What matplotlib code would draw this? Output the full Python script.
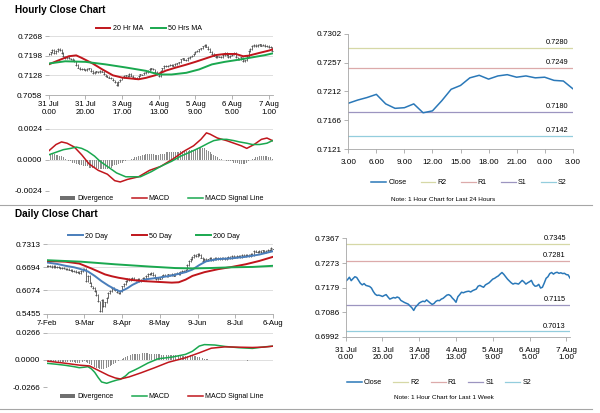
import numpy as np
import matplotlib
matplotlib.use("Agg")
import matplotlib.pyplot as plt
from matplotlib.lines import Line2D
from matplotlib.patches import Patch

plt.rcParams['font.family'] = ['Liberation Sans', 'DejaVu Sans']

# ---------------- DATA ----------------
hour_labels = ["31 Jul\n0.00", "31 Jul\n20.00", "3 Aug\n17.00", "4 Aug\n13.00",
               "5 Aug\n9.00", "6 Aug\n5.00", "7 Aug\n1.00"]
hour_label_idx = [0, 20, 40, 60, 80, 100, 120]

# hourly close, last week (123 hourly bars)
week_close = [
    0.7204, 0.7210, 0.7219, 0.7206, 0.7214, 0.7221, 0.7218, 0.7207, 0.7196, 0.7190,
    0.7195, 0.7188, 0.7186, 0.7184, 0.7178, 0.7165, 0.7155, 0.7150, 0.7151, 0.7149,
    0.7146, 0.7150, 0.7153, 0.7144, 0.7136, 0.7139, 0.7142, 0.7140, 0.7144, 0.7141,
    0.7131, 0.7127, 0.7123, 0.7120, 0.7117, 0.7110, 0.7103, 0.7093, 0.7106, 0.7113,
    0.7121, 0.7125, 0.7128, 0.7126, 0.7133, 0.7127, 0.7121, 0.7116, 0.7119, 0.7127,
    0.7131, 0.7130, 0.7136, 0.7139, 0.7145, 0.7151, 0.7153, 0.7149, 0.7140, 0.7133,
    0.7124, 0.7145, 0.7153, 0.7162, 0.7160, 0.7163, 0.7165, 0.7166, 0.7163, 0.7168,
    0.7171, 0.7174, 0.7185, 0.7188, 0.7184, 0.7181, 0.7190, 0.7194, 0.7198, 0.7205,
    0.7212, 0.7215, 0.7220, 0.7224, 0.7231, 0.7237, 0.7230, 0.7221, 0.7212, 0.7205,
    0.7198, 0.7193, 0.7196, 0.7195, 0.7193, 0.7200, 0.7207, 0.7201,
    0.7193, 0.7198, 0.7202, 0.7207, 0.7192, 0.7185, 0.7186, 0.7192, 0.7178, 0.7181,
    0.7197, 0.7215, 0.7221, 0.7233, 0.7237, 0.7231, 0.7236, 0.7238, 0.7234, 0.7236,
    0.7233, 0.7234, 0.7229, 0.7228, 0.7216]

ma20_h_idx = [0, 6, 11, 15, 18, 24, 29, 35, 40, 46, 49, 53, 58, 64, 69, 75, 80, 86,
              91, 96, 102, 106, 109, 115, 120, 122]
ma20_h = [0.7167, 0.7183, 0.7196, 0.7199, 0.7190, 0.7170, 0.7150, 0.7128, 0.7120,
          0.7116, 0.7114, 0.7119, 0.7128, 0.7145, 0.7155, 0.7166, 0.7176, 0.7189,
          0.7200, 0.7204, 0.7204, 0.7196, 0.7198, 0.7208, 0.7216, 0.7220]
ma50_h_idx = [0, 9, 20, 31, 42, 53, 60, 67, 75, 82, 89, 96, 104, 111, 118, 122]
ma50_h = [0.7170, 0.7178, 0.7176, 0.7167, 0.7156, 0.7144, 0.7131, 0.7131, 0.7137,
          0.7149, 0.7167, 0.7176, 0.7184, 0.7192, 0.7200, 0.7206]

macd_h_idx = [0, 4, 7, 10, 14, 18, 22, 27, 32, 36, 39, 43, 49, 55, 61, 68, 74, 79,
              83, 86, 88, 92, 97, 101, 105, 108, 112, 116, 119, 122]
macd_h = [0.0007, 0.0012, 0.0014, 0.0013, 0.0010, 0.0004, -0.0003, -0.0008, -0.0011,
          -0.0016, -0.0017, -0.0015, -0.0013, -0.0008, -0.0005, 0.0001, 0.0007, 0.0011,
          0.0016, 0.0021, 0.0020, 0.0017, 0.0015, 0.0013, 0.0011, 0.0009, 0.0012,
          0.0016, 0.0017, 0.0015]
sig_h_idx = [0, 4, 8, 12, 15, 18, 21, 25, 28, 32, 37, 42, 46, 50, 56, 61, 67, 72, 77,
             83, 87, 90, 94, 97, 101, 104, 108, 111, 115, 119, 122]
sig_h = [0.0004, 0.0006, 0.0008, 0.0009, 0.0010, 0.0009, 0.0007, 0.0003, -0.0001,
         -0.0005, -0.0010, -0.0013, -0.0013, -0.0013, -0.0009, -0.0005, -0.0001, 0.0003,
         0.0006, 0.0010, 0.0013, 0.0015, 0.0016, 0.0016, 0.0015, 0.0014, 0.0013, 0.0012,
         0.0012, 0.0013, 0.0015]
div_h = [
    0.0004, 0.0005, 0.0005, 0.0005, 0.0004, 0.0004, 0.0003, 0.0003, 0.0002, 0.0001,
    0.0000, -0.0001, -0.0001, -0.0002, -0.0002, -0.0003, -0.0003, -0.0004, -0.0004, -0.0005,
    -0.0005, -0.0005, -0.0006, -0.0006, -0.0006, -0.0006, -0.0006, -0.0007, -0.0007, -0.0007,
    -0.0007, -0.0007, -0.0007, -0.0006, -0.0006, -0.0005, -0.0004, -0.0004, -0.0003, -0.0002,
    -0.0002, -0.0001, -0.0001, 0.0000, 0.0000, 0.0001, 0.0001, 0.0002, 0.0002, 0.0003,
    0.0003, 0.0004, 0.0004, 0.0005, 0.0005, 0.0005, 0.0005, 0.0005, 0.0004, 0.0004,
    0.0004, 0.0005, 0.0005, 0.0005, 0.0006, 0.0006, 0.0006, 0.0006, 0.0006, 0.0006,
    0.0006, 0.0006, 0.0007, 0.0007, 0.0007, 0.0007, 0.0007, 0.0008, 0.0008, 0.0008,
    0.0008, 0.0009, 0.0009, 0.0009, 0.0009, 0.0009, 0.0008, 0.0007, 0.0006, 0.0005,
    0.0004, 0.0003, 0.0002, 0.0001, 0.0001, 0.0000, 0.0000, -0.0001, -0.0001, -0.0001,
    -0.0001, -0.0002, -0.0002, -0.0002, -0.0003, -0.0003, -0.0003, -0.0003, -0.0002, -0.0001,
    0.0000, 0.0001, 0.0001, 0.0002, 0.0002, 0.0003, 0.0003, 0.0003, 0.0003, 0.0003,
    0.0002, 0.0002, 0.0001]

day_labels = ["7-Feb", "9-Mar", "8-Apr", "8-May", "9-Jun", "8-Jul", "6-Aug"]
day_label_idx = [0, 22, 44, 66, 88, 110, 132]
daily_close = [
    0.6720, 0.6712, 0.6730, 0.6705, 0.6718, 0.6690, 0.6700, 0.6685, 0.6672, 0.6680,
    0.6660, 0.6645, 0.6655, 0.6630, 0.6620, 0.6600, 0.6585, 0.6560, 0.6575, 0.6545,
    0.6600, 0.6640, 0.6655, 0.6320, 0.6450, 0.6280, 0.6180, 0.6130, 0.6060, 0.5950,
    0.5780, 0.5520, 0.5820, 0.5650, 0.5750, 0.5880, 0.6000, 0.6060, 0.6150, 0.6100,
    0.6080, 0.6020, 0.6010, 0.6060, 0.6180, 0.6240, 0.6330, 0.6380, 0.6350, 0.6370,
    0.6400, 0.6360, 0.6340, 0.6380, 0.6330, 0.6350, 0.6400, 0.6380, 0.6450, 0.6520,
    0.6510, 0.6530, 0.6480, 0.6420, 0.6380, 0.6410, 0.6390, 0.6450, 0.6480, 0.6470,
    0.6450, 0.6500, 0.6480, 0.6510, 0.6470, 0.6520, 0.6540, 0.6500, 0.6570, 0.6600,
    0.6580, 0.6630, 0.6760, 0.6850, 0.6920, 0.6960, 0.7020, 0.6990, 0.7040, 0.7010,
    0.6950, 0.6860, 0.6920, 0.6880, 0.6900, 0.6930, 0.6890, 0.6910, 0.6940, 0.6920,
    0.6950, 0.6910, 0.6930, 0.6950, 0.6920, 0.6940, 0.6960, 0.6930, 0.6990, 0.6970,
    0.6960, 0.7000, 0.6990, 0.6970, 0.7010, 0.7000, 0.7030, 0.7010, 0.6990, 0.7040,
    0.7020, 0.7120, 0.7110, 0.7090, 0.7130, 0.7100, 0.7140, 0.7090, 0.7120, 0.7160,
    0.7150, 0.7200, 0.7180]

ma20_d_idx = [0, 6, 11, 16, 20, 24, 28, 32, 36, 40, 43, 47, 50, 54, 58, 65, 73, 81,
              85, 89, 93, 100, 108, 116, 124, 132]
ma20_d = [0.682, 0.678, 0.673, 0.669, 0.664, 0.658, 0.646, 0.632, 0.620, 0.610, 0.604,
          0.613, 0.622, 0.631, 0.637, 0.641, 0.647, 0.656, 0.663, 0.675, 0.685, 0.691,
          0.693, 0.697, 0.703, 0.712]
ma50_d_idx = [0, 11, 19, 26, 30, 34, 38, 42, 50, 57, 65, 73, 77, 81, 85, 92, 100, 108,
              116, 124, 132]
ma50_d = [0.686, 0.684, 0.679, 0.666, 0.658, 0.650, 0.645, 0.641, 0.635, 0.632, 0.630,
          0.628, 0.629, 0.636, 0.646, 0.656, 0.664, 0.670, 0.677, 0.686, 0.697]
ma200_d_idx = [0, 20, 40, 60, 75, 85, 95, 108, 120, 132]
ma200_d = [0.688, 0.684, 0.677, 0.671, 0.667, 0.666, 0.667, 0.669, 0.670, 0.673]

macd_d_idx = [0, 6, 11, 16, 19, 22, 24, 26, 28, 30, 32, 35, 38, 41, 43, 46, 48, 51, 54,
              59, 65, 73, 81, 85, 89, 92, 98, 104, 112, 120, 127, 132]
macd_d = [-0.0032, -0.0042, -0.0052, -0.0065, -0.0075, -0.0070, -0.0065, -0.0085,
          -0.0120, -0.0170, -0.0214, -0.0227, -0.0210, -0.0195, -0.0188, -0.0155,
          -0.0123, -0.0100, -0.0075, -0.0030, 0.0012, 0.0028, 0.0055, 0.0085, 0.0136,
          0.0150, 0.0146, 0.0132, 0.0120, 0.0113, 0.0128, 0.0135]
sig_d_idx = [0, 11, 19, 25, 30, 36, 40, 43, 48, 55, 63, 71, 81, 89, 96, 104, 112, 120,
             127, 132]
sig_d = [-0.0010, -0.0032, -0.0050, -0.0058, -0.0100, -0.0150, -0.0175, -0.0185,
         -0.0165, -0.0125, -0.0075, -0.0022, 0.0022, 0.0070, 0.0115, 0.0128, 0.0125,
         0.0122, 0.0126, 0.0135]
div_d = [
    -0.0010, -0.0012, -0.0012, -0.0015, -0.0015, -0.0015, -0.0018, -0.0018, -0.0018, -0.0020,
    -0.0020, -0.0020, -0.0018, -0.0020, -0.0022, -0.0022, -0.0022, -0.0025, -0.0025, -0.0025,
    -0.0020, -0.0015, -0.0012, -0.0015, -0.0025, -0.0035, -0.0045, -0.0055, -0.0065, -0.0075,
    -0.0080, -0.0088, -0.0090, -0.0090, -0.0085, -0.0078, -0.0068, -0.0058, -0.0048, -0.0038,
    -0.0030, -0.0020, -0.0010, -0.0003, 0.0005, 0.0015, 0.0025, 0.0035, 0.0045, 0.0052,
    0.0055, 0.0058, 0.0060, 0.0062, 0.0063, 0.0065, 0.0065, 0.0066, 0.0065, 0.0064,
    0.0063, 0.0062, 0.0060, 0.0058, 0.0056, 0.0055, 0.0054, 0.0052, 0.0050, 0.0050,
    0.0048, 0.0048, 0.0046, 0.0046, 0.0045, 0.0045, 0.0045, 0.0044, 0.0044, 0.0043,
    0.0042, 0.0042, 0.0043, 0.0045, 0.0045, 0.0044, 0.0042, 0.0038, 0.0032, 0.0026,
    0.0020, 0.0015, 0.0010, 0.0007, 0.0005, 0.0004, 0.0003, 0.0002, 0.0002, 0.0001,
    0.0001, 0.0001, 0.0000, 0.0000, 0.0000, 0.0000, 0.0000, 0.0000, 0.0000, 0.0000,
    0.0000, 0.0000, -0.0001, -0.0002, -0.0003, -0.0004, -0.0004, -0.0005, -0.0004, -0.0003,
    -0.0002, -0.0002, -0.0001, 0.0001, 0.0002, 0.0003, 0.0003, 0.0003, 0.0002, 0.0002,
    0.0001, 0.0001, 0.0000]

hours24_labels = ["3.00", "6.00", "9.00", "12.00", "15.00", "18.00", "21.00", "0.00", "3.00"]
hours24_close = [0.7193, 0.7198, 0.7202, 0.7207, 0.7192, 0.7185, 0.7186, 0.7192, 0.7178,
                 0.7181, 0.7197, 0.7215, 0.7221, 0.7233, 0.7237, 0.7231, 0.7236, 0.7238,
                 0.7234, 0.7236, 0.7233, 0.7234, 0.7229, 0.7228, 0.7216]
levels_24h = {"R2": 0.7280, "R1": 0.7249, "S1": 0.7180, "S2": 0.7142}
levels_week = {"R2": 0.7345, "R1": 0.7281, "S1": 0.7115, "S2": 0.7013}

# ---------------- STYLE ----------------
RED = "#c0161c"
GREEN = "#1aa84f"
BLUE20 = "#4a7ebb"
CLOSE_BLUE = "#2a78b8"
BAR_GRAY = "#505050"
DIV_GRAY = "#8c8c8c"
AXIS_GRAY = "#a6a6a6"
GRID_GRAY = "#d9d9d9"
LEVEL_COLORS = {"R2": "#d6d8a6", "R1": "#dcaaaa", "S1": "#9c95c0", "S2": "#93cddd"}

W, H = 600, 413
fig = plt.figure(figsize=(6, 4.13), dpi=100)


def px_axes(l, t, r, b):
    return fig.add_axes([l / W, 1 - b / H, (r - l) / W, (b - t) / H])


def style_left_panel(ax, yticks, grid=True):
    ax.set_yticks(yticks)
    ax.set_yticklabels(["%.4f" % v for v in yticks])
    if grid:
        ax.yaxis.grid(True, color=GRID_GRAY, lw=0.6)
    ax.set_axisbelow(True)
    for s in ["top", "right", "left"]:
        ax.spines[s].set_visible(False)
    ax.spines["bottom"].set_color(AXIS_GRAY)
    ax.spines["bottom"].set_linewidth(0.6)
    ax.tick_params(axis="y", length=3, width=0.6, color=AXIS_GRAY, labelsize=5.9, pad=1.5)
    ax.tick_params(axis="x", length=3, width=0.6, color=AXIS_GRAY, labelsize=5.6, pad=1.5)


def legend(ax, handles, labels, cx, cy, colsp, **kw):
    ax.legend(handles, labels, loc="center", bbox_to_anchor=(cx / W, 1 - cy / H),
              bbox_transform=fig.transFigure, ncol=len(handles), frameon=False,
              fontsize=5.1, handlelength=2.1, handletextpad=0.3, columnspacing=colsp,
              borderpad=0, borderaxespad=0, **kw)


def price_bars(ax, values):
    v = np.asarray(values)
    x = np.arange(len(v))
    prev = np.r_[v[0], v[:-1]]
    y0, y1 = ax.get_ylim()
    pad = 0.012 * (y1 - y0)  # visual bar extent only
    ax.vlines(x, np.minimum(prev, v) - pad, np.maximum(prev, v) + pad,
              color=BAR_GRAY, lw=0.6)
    ax.plot(x, v, ls="none", marker="_", ms=1.6, mew=0.6, color=BAR_GRAY)


# ---------------- TITLES & SEPARATORS ----------------
fig.text(15 / W, 1 - 10 / H, "Hourly Close Chart", fontsize=7.2, fontweight="bold",
         va="center", ha="left")
fig.text(15 / W, 1 - 214 / H, "Daily Close Chart", fontsize=7.2, fontweight="bold",
         va="center", ha="left")
for yy in (205, 409):
    fig.add_artist(Line2D([0, 592 / W], [1 - yy / H] * 2, color=AXIS_GRAY, lw=0.8))

# ---------------- HOURLY PRICE ----------------
ax1 = px_axes(48.7, 36, 273, 95)
ax1.set_xlim(0, 122.3)
ax1.set_ylim(0.7058, 0.7268)
price_bars(ax1, week_close)
ax1.plot(ma20_h_idx, ma20_h, color=RED, lw=1.4)
ax1.plot(ma50_h_idx, ma50_h, color=GREEN, lw=1.4)
style_left_panel(ax1, [0.7058, 0.7128, 0.7198, 0.7268])
ax1.set_xticks(hour_label_idx)
ax1.set_xticklabels(hour_labels)
for t in ax1.get_xticklabels():
    t.set_linespacing(1.05)
legend(ax1, [Line2D([], [], color=RED, lw=1.4), Line2D([], [], color=GREEN, lw=1.4)],
       ["20 Hr MA", "50 Hrs MA"], 149, 29, 1.2)

# ---------------- HOURLY MACD ----------------
ax2 = px_axes(48.7, 129, 273, 191)
ax2.bar(np.arange(len(div_h)), div_h, width=0.55, color=DIV_GRAY, lw=0)
ax2.plot(macd_h_idx, macd_h, color=RED, lw=1.1)
ax2.plot(sig_h_idx, sig_h, color=GREEN, lw=1.1)
ax2.set_xlim(0, 122.3)
ax2.set_ylim(-0.0024, 0.0024)
style_left_panel(ax2, [-0.0024, 0.0, 0.0024])
ax2.spines["bottom"].set_visible(False)
ax2.set_xticks([])
legend(ax2, [Patch(facecolor="#6f6f6f", edgecolor="none"),
             Line2D([], [], color=RED, lw=1.1), Line2D([], [], color=GREEN, lw=1.1)],
       ["Divergence", "MACD", "MACD Signal Line"], 162, 199, 2.6, handleheight=0.5)

# ---------------- DAILY PRICE ----------------
ax3 = px_axes(46.7, 244, 273, 313.5)
ax3.set_xlim(0, 132)
ax3.set_ylim(0.5455, 0.7313)
price_bars(ax3, daily_close)
ax3.plot(ma20_d_idx, ma20_d, color=BLUE20, lw=1.4)
ax3.plot(ma50_d_idx, ma50_d, color=RED, lw=1.4)
ax3.plot(ma200_d_idx, ma200_d, color=GREEN, lw=1.4)
style_left_panel(ax3, [0.5455, 0.6074, 0.6694, 0.7313])
ax3.set_xticks(day_label_idx)
ax3.set_xticklabels(day_labels)
legend(ax3, [Line2D([], [], color=BLUE20, lw=1.4), Line2D([], [], color=RED, lw=1.4),
             Line2D([], [], color=GREEN, lw=1.4)],
       ["20 Day", "50 Day", "200 Day"], 154, 236, 3.4)

# ---------------- DAILY MACD ----------------
ax4 = px_axes(46.7, 332.7, 273, 387.3)
ax4.bar(np.arange(len(div_d)), div_d, width=0.55, color=DIV_GRAY, lw=0)
ax4.plot(macd_d_idx, macd_d, color=GREEN, lw=1.1)
ax4.plot(sig_d_idx, sig_d, color=RED, lw=1.1)
ax4.set_xlim(0, 132)
ax4.set_ylim(-0.0266, 0.0266)
style_left_panel(ax4, [-0.0266, 0.0, 0.0266])
ax4.spines["bottom"].set_visible(False)
ax4.set_xticks([])
legend(ax4, [Patch(facecolor="#6f6f6f", edgecolor="none"),
             Line2D([], [], color=GREEN, lw=1.1), Line2D([], [], color=RED, lw=1.1)],
       ["Divergence", "MACD", "MACD Signal Line"], 162, 397, 2.6, handleheight=0.5)


# ---------------- RIGHT PANELS ----------------
def style_right_panel(ax, yticks):
    ax.set_yticks(yticks)
    ax.set_yticklabels(["%.4f" % v for v in yticks])
    for s in ["top", "right"]:
        ax.spines[s].set_visible(False)
    for s in ["left", "bottom"]:
        ax.spines[s].set_color(AXIS_GRAY)
        ax.spines[s].set_linewidth(0.6)
    ax.tick_params(axis="y", length=3, width=0.6, color=AXIS_GRAY, labelsize=5.9, pad=1.5)
    ax.tick_params(axis="x", length=3, width=0.6, color=AXIS_GRAY, labelsize=5.9, pad=4)


def level_lines(ax, levels):
    handles = [Line2D([], [], color=CLOSE_BLUE, lw=1.1)]
    names = ["Close"]
    for name, val in levels.items():
        ax.axhline(val, color=LEVEL_COLORS[name], lw=0.9)
        ax.annotate("%.4f" % val, xy=(1, val), xycoords=("axes fraction", "data"),
                    xytext=(-3, 1.2), textcoords="offset points", ha="right", va="bottom",
                    fontsize=5.3)
        handles.append(Line2D([], [], color=LEVEL_COLORS[name], lw=0.9))
        names.append(name)
    return handles, names


ax5 = px_axes(348.3, 34, 572.7, 149)
h, n = level_lines(ax5, levels_24h)
ax5.plot(np.arange(len(hours24_close)), hours24_close, color=CLOSE_BLUE, lw=1.1)
ax5.set_xlim(0, 24)
ax5.set_ylim(0.7121, 0.7302)
style_right_panel(ax5, [0.7121, 0.7166, 0.7212, 0.7257, 0.7302])
ax5.set_xticks(np.arange(0, 25, 3))
ax5.set_xticklabels(hours24_labels)
legend(ax5, h, n, 469, 183, 2.0)
fig.text(443.5 / W, 1 - 200 / H, "Note: 1 Hour Chart for Last 24 Hours", fontsize=4.6,
         ha="center", va="center")

ax6 = px_axes(345.7, 238.3, 570, 337)
h, n = level_lines(ax6, levels_week)
ax6.plot(np.arange(len(week_close)), week_close, color=CLOSE_BLUE, lw=1.1)
ax6.set_xlim(0, 122)
ax6.set_ylim(0.6992, 0.7367)
style_right_panel(ax6, [0.6992, 0.7086, 0.7179, 0.7273, 0.7367])
ax6.set_xticks(hour_label_idx)
ax6.set_xticklabels(hour_labels)
for t in ax6.get_xticklabels():
    t.set_linespacing(1.05)
legend(ax6, h, n, 439, 383, 1.6)
fig.text(444 / W, 1 - 397.5 / H, "Note: 1 Hour Chart for Last 1 Week", fontsize=4.6,
         ha="center", va="center")

fig.savefig("out.png", dpi=100)
